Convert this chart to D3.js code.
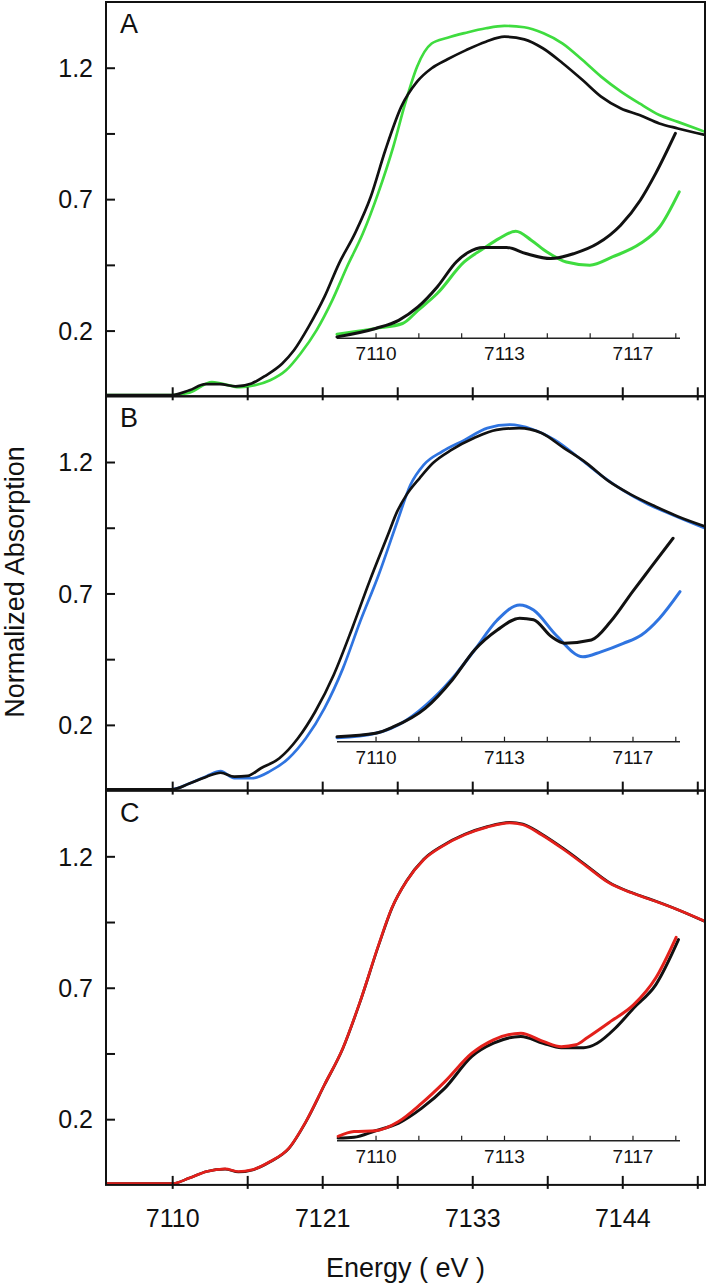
<!DOCTYPE html>
<html>
<head>
<meta charset="utf-8">
<script src="https://cdn.jsdelivr.net/npm/d3@7"></script>
<style>
  html, body { margin: 0; padding: 0; background: #fff; }
  svg { display: block; }
  text { font-family: "Liberation Sans", Arial, Helvetica, sans-serif; fill: #111; }
</style>
</head>
<body>
<svg id="chart" width="707" height="1285"></svg>
<script>
// ---------------- DATA ----------------
const panelLabels = ["A", "B", "C"];
const sampleColors = ["#3fdc3f", "#2f74e0", "#e3201b"];
const refColor = "#111111";

const yTickValues = [0.2, 0.45, 0.7, 0.95, 1.2];
const yTickLabels = ["0.2", "", "0.7", "", "1.2"];
const yDomain = [-0.05, 1.45];

const xMainTicks = [7110, 7115.667, 7121.333, 7127, 7132.667, 7138.333, 7144, 7149.667];
const xMainLabels = ["7110", "", "7121", "", "7133", "", "7144", ""];
const xDomain = [7105, 7150.25];

const xInsetTicks = [7110, 7111.111, 7112.222, 7113.333, 7114.444, 7115.556, 7116.667, 7117.778];
const xInsetLabels = ["7110", "", "", "7113", "", "", "7117", ""];
const xInsetDomain = [7109, 7117.9];
const insetAxisLevel = [0.171, 0.136, 0.118];   // in normalized-absorption units of each panel

// Panel A — main spectra
const aRefE = [7105, 7110, 7111.3, 7112.5, 7113.6, 7114.8, 7116.0, 7117.1, 7118.3, 7119.2, 7120.3, 7121.5, 7122.6, 7123.8, 7125.0, 7126.1, 7127.3, 7128.5, 7129.6, 7130.8, 7132.2, 7133.7, 7135.1, 7136.6, 7138.0, 7139.5, 7141.0, 7142.4, 7143.9, 7145.3, 7146.8, 7148.2, 7150.25];
const aRefV = [-0.045, -0.045, -0.027, -0.004, -0.004, -0.012, -0.001, 0.030, 0.074, 0.125, 0.214, 0.328, 0.455, 0.569, 0.709, 0.886, 1.051, 1.147, 1.198, 1.232, 1.267, 1.299, 1.318, 1.308, 1.274, 1.217, 1.153, 1.090, 1.045, 1.020, 0.988, 0.969, 0.944];
const aSmpE = [7105, 7110, 7111.3, 7113.0, 7115.1, 7116.25, 7117.4, 7118.6, 7119.7, 7120.9, 7122.1, 7123.2, 7124.4, 7125.55, 7126.7, 7127.6, 7128.5, 7129.6, 7130.8, 7132.2, 7133.7, 7135.1, 7136.6, 7138.05, 7139.5, 7141.0, 7142.4, 7143.9, 7145.3, 7146.8, 7148.2, 7150.25];
const aSmpV = [-0.045, -0.045, -0.036, 0.004, -0.015, -0.008, 0.011, 0.049, 0.113, 0.201, 0.316, 0.442, 0.569, 0.721, 0.899, 1.064, 1.204, 1.292, 1.314, 1.333, 1.350, 1.359, 1.354, 1.331, 1.292, 1.229, 1.166, 1.109, 1.064, 1.020, 0.994, 0.956];
// Panel A — inset (pre-edge)
const aInRefE = [7109.0, 7110.0, 7110.6, 7111.1, 7111.6, 7112.1, 7112.4, 7112.8, 7113.4, 7113.9, 7114.55, 7115.15, 7115.76, 7116.36, 7116.87, 7117.27, 7117.78];
const aInRefV = [0.176, 0.208, 0.239, 0.290, 0.366, 0.462, 0.497, 0.516, 0.516, 0.493, 0.474, 0.493, 0.531, 0.601, 0.696, 0.798, 0.950];
const aInSmpE = [7109.0, 7110.0, 7110.7, 7111.1, 7111.6, 7112.3, 7112.8, 7113.2, 7113.64, 7114.04, 7114.44, 7114.95, 7115.56, 7116.16, 7116.87, 7117.37, 7117.88];
const aInSmpV = [0.186, 0.208, 0.227, 0.277, 0.341, 0.461, 0.512, 0.550, 0.578, 0.544, 0.500, 0.461, 0.449, 0.481, 0.531, 0.594, 0.728];

// Panel B — main spectra
const bRefE = [7105, 7110, 7111.3, 7112.6, 7113.66, 7114.7, 7115.7, 7116.7, 7118.1, 7119.5, 7120.8, 7122.2, 7123.6, 7124.9, 7126.3, 7127.0, 7127.7, 7128.7, 7129.7, 7131.1, 7132.8, 7134.5, 7136.2, 7137.9, 7139.6, 7141.3, 7143.0, 7144.7, 7146.5, 7148.2, 7150.25];
const bRefV = [-0.045, -0.045, -0.023, 0.003, 0.018, 0.003, 0.006, 0.035, 0.073, 0.149, 0.250, 0.390, 0.568, 0.745, 0.923, 1.012, 1.075, 1.139, 1.196, 1.246, 1.291, 1.322, 1.329, 1.310, 1.253, 1.196, 1.126, 1.075, 1.031, 0.993, 0.955];
const bSmpE = [7105, 7110, 7111.3, 7112.6, 7113.66, 7114.7, 7116.0, 7117.4, 7118.8, 7120.1, 7121.5, 7122.9, 7124.2, 7125.6, 7127.0, 7128.0, 7129.0, 7130.4, 7132.1, 7133.8, 7135.5, 7137.2, 7138.9, 7140.6, 7142.35, 7144.0, 7145.8, 7147.5, 7150.25];
const bSmpV = [-0.045, -0.045, -0.023, 0.005, 0.024, -0.003, -0.003, 0.024, 0.073, 0.149, 0.263, 0.415, 0.593, 0.771, 0.973, 1.113, 1.189, 1.240, 1.284, 1.329, 1.342, 1.325, 1.284, 1.221, 1.151, 1.094, 1.043, 1.005, 0.948];
// Panel B — inset
const bInRefE = [7109.0, 7110.0, 7110.47, 7111.29, 7111.99, 7112.57, 7113.16, 7113.74, 7114.1, 7114.56, 7114.9, 7115.6, 7116.1, 7116.67, 7117.13, 7117.72];
const bInRefV = [0.155, 0.168, 0.193, 0.263, 0.371, 0.485, 0.561, 0.606, 0.600, 0.536, 0.511, 0.523, 0.593, 0.707, 0.796, 0.910];
const bInSmpE = [7109.0, 7110.0, 7110.8, 7111.5, 7112.1, 7112.57, 7113.16, 7113.74, 7114.1, 7114.68, 7115.38, 7115.85, 7116.43, 7116.9, 7117.37, 7117.9];
const bInSmpV = [0.151, 0.168, 0.218, 0.301, 0.396, 0.485, 0.599, 0.656, 0.637, 0.542, 0.459, 0.478, 0.510, 0.542, 0.606, 0.707];

// Panel C — main spectra
const cRefE = [7105, 7110, 7111.3, 7112.6, 7114.0, 7115.0, 7116.0, 7117.4, 7118.8, 7120.1, 7121.5, 7122.9, 7124.2, 7125.6, 7126.6, 7127.7, 7129.0, 7130.4, 7132.1, 7133.8, 7135.5, 7136.5, 7137.9, 7139.6, 7141.3, 7143.0, 7144.7, 7146.5, 7148.2, 7150.25];
const cRefV = [-0.045, -0.045, -0.024, 0.001, 0.010, -0.001, 0.006, 0.038, 0.088, 0.190, 0.330, 0.470, 0.647, 0.862, 1.003, 1.106, 1.189, 1.240, 1.284, 1.313, 1.329, 1.323, 1.285, 1.228, 1.165, 1.101, 1.062, 1.030, 0.997, 0.952];
const cSmpE = [7105, 7110, 7111.3, 7112.6, 7114.0, 7115.0, 7116.0, 7117.4, 7118.8, 7120.1, 7121.5, 7122.9, 7124.2, 7125.6, 7126.6, 7127.7, 7129.0, 7130.4, 7132.1, 7133.8, 7135.5, 7136.5, 7137.9, 7139.6, 7141.3, 7143.0, 7144.7, 7146.5, 7148.2, 7150.25];
const cSmpV = [-0.045, -0.045, -0.024, 0.001, 0.011, 0.001, 0.007, 0.039, 0.089, 0.191, 0.331, 0.471, 0.648, 0.864, 1.004, 1.105, 1.187, 1.238, 1.282, 1.311, 1.327, 1.320, 1.282, 1.225, 1.162, 1.099, 1.061, 1.029, 0.997, 0.953];
// Panel C — inset
const cInRefE = [7109.03, 7109.44, 7110.0, 7110.6, 7111.2, 7111.8, 7112.5, 7113.06, 7113.77, 7114.35, 7114.82, 7115.4, 7115.75, 7116.22, 7116.7, 7117.27, 7117.86];
const cInRefV = [0.128, 0.131, 0.156, 0.185, 0.242, 0.318, 0.439, 0.489, 0.515, 0.489, 0.472, 0.472, 0.489, 0.546, 0.623, 0.711, 0.883];
const cInSmpE = [7109.03, 7109.44, 7110.0, 7110.6, 7111.2, 7111.8, 7112.5, 7113.06, 7113.77, 7114.35, 7114.82, 7115.2, 7115.5, 7116.1, 7116.7, 7117.27, 7117.8];
const cInSmpV = [0.135, 0.153, 0.156, 0.191, 0.261, 0.343, 0.451, 0.502, 0.527, 0.496, 0.476, 0.483, 0.511, 0.572, 0.636, 0.737, 0.892];

const xTitle = "Energy ( eV )";
const yTitle = "Normalized Absorption";

// ---------------- LAYOUT ----------------
const L = 106, R = 705;
const panelTop = [2, 396.3, 790.6];
const PH = 394.3;
const insetL = 337, insetR = 680;

const panels = [
  { main: [[aSmpE, aSmpV, 1], [aRefE, aRefV, 0]], inset: [[aInSmpE, aInSmpV, 1], [aInRefE, aInRefV, 0]] },
  { main: [[bSmpE, bSmpV, 1], [bRefE, bRefV, 0]], inset: [[bInSmpE, bInSmpV, 1], [bInRefE, bInRefV, 0]] },
  { main: [[cRefE, cRefV, 0], [cSmpE, cSmpV, 1]], inset: [[cInRefE, cInRefV, 0], [cInSmpE, cInSmpV, 1]] }
];

const svg = d3.select("#chart");
const x = d3.scaleLinear().domain(xDomain).range([L, R]);
const xi = d3.scaleLinear().domain(xInsetDomain).range([insetL, insetR]);
const FONT = '"Liberation Sans", Arial, sans-serif';

panels.forEach((p, k) => {
  const top = panelTop[k], bot = top + PH;
  const y = d3.scaleLinear().domain(yDomain).range([bot, top]);
  const col = sampleColors[k];
  const g = svg.append("g");

  const clipId = "clip" + k;
  svg.append("clipPath").attr("id", clipId)
    .append("rect").attr("x", L).attr("y", top).attr("width", R - L).attr("height", PH);

  const line = d3.line().x(d => x(d[0])).y(d => y(d[1])).curve(d3.curveMonotoneX);
  const lineIn = d3.line().x(d => xi(d[0])).y(d => y(d[1])).curve(d3.curveMonotoneX);

  const cg = g.append("g").attr("clip-path", `url(#${clipId})`);
  p.main.forEach(([E, V, isS]) => {
    cg.append("path").datum(d3.zip(E, V)).attr("d", line)
      .attr("fill", "none").attr("stroke", isS ? col : refColor)
      .attr("stroke-width", 2.7).attr("stroke-linejoin", "round");
  });

  // inset axis
  const ia = g.append("g").attr("transform", `translate(0,${y(insetAxisLevel[k])})`)
    .call(d3.axisBottom(xi).tickValues(xInsetTicks).tickSize(-5)
      .tickFormat((d, i) => xInsetLabels[i]));
  ia.select(".domain").attr("d", `M${insetL},0H${insetR}`).attr("stroke", "#222").attr("stroke-width", 1.4);
  ia.selectAll(".tick line").attr("stroke", "#222").attr("stroke-width", 1.2);
  ia.selectAll(".tick text").attr("y", 22).attr("dy", 0).style("font-size", "19px")
    .style("font-family", FONT).attr("fill", "#111");

  p.inset.forEach(([E, V, isS]) => {
    g.append("path").datum(d3.zip(E, V)).attr("d", lineIn)
      .attr("fill", "none").attr("stroke", isS ? col : refColor)
      .attr("stroke-width", 3).attr("stroke-linejoin", "round").attr("stroke-linecap", "round");
  });

  // left axis
  const ya = g.append("g").attr("transform", `translate(${L},0)`)
    .call(d3.axisLeft(y).tickValues(yTickValues).tickSize(-9)
      .tickFormat((d, i) => yTickLabels[i]));
  ya.select(".domain").remove();
  ya.selectAll(".tick line").attr("stroke", "#111").attr("stroke-width", 2);
  ya.selectAll(".tick text").attr("x", -13).attr("dy", "0.35em").style("font-size", "25px")
    .style("font-family", FONT).attr("fill", "#111");

  // bottom axis ticks
  const xa = g.append("g").attr("transform", `translate(0,${bot})`)
    .call(d3.axisBottom(x).tickValues(xMainTicks).tickSize(-9)
      .tickFormat((d, i) => k === 2 ? xMainLabels[i] : ""));
  xa.select(".domain").remove();
  xa.selectAll(".tick line").attr("y1", 4).attr("y2", -9).attr("stroke", "#111").attr("stroke-width", 2);
  xa.selectAll(".tick text").attr("y", 42).attr("dy", 0).style("font-size", "25px")
    .style("font-family", FONT).attr("fill", "#111");

  // frame
  g.append("rect").attr("x", L).attr("y", top).attr("width", R - L).attr("height", PH)
    .attr("fill", "none").attr("stroke", "#111").attr("stroke-width", 2);

  // panel label
  g.append("text").attr("x", 120).attr("y", top + 31).text(panelLabels[k])
    .style("font-size", "27px");
});

svg.append("text").attr("x", (L + R) / 2).attr("y", 1277).attr("text-anchor", "middle")
  .style("font-size", "27px").text(xTitle);
svg.append("text").attr("transform", "translate(24,582) rotate(-90)").attr("text-anchor", "middle")
  .style("font-size", "27px").text(yTitle);
</script>
</body>
</html>
